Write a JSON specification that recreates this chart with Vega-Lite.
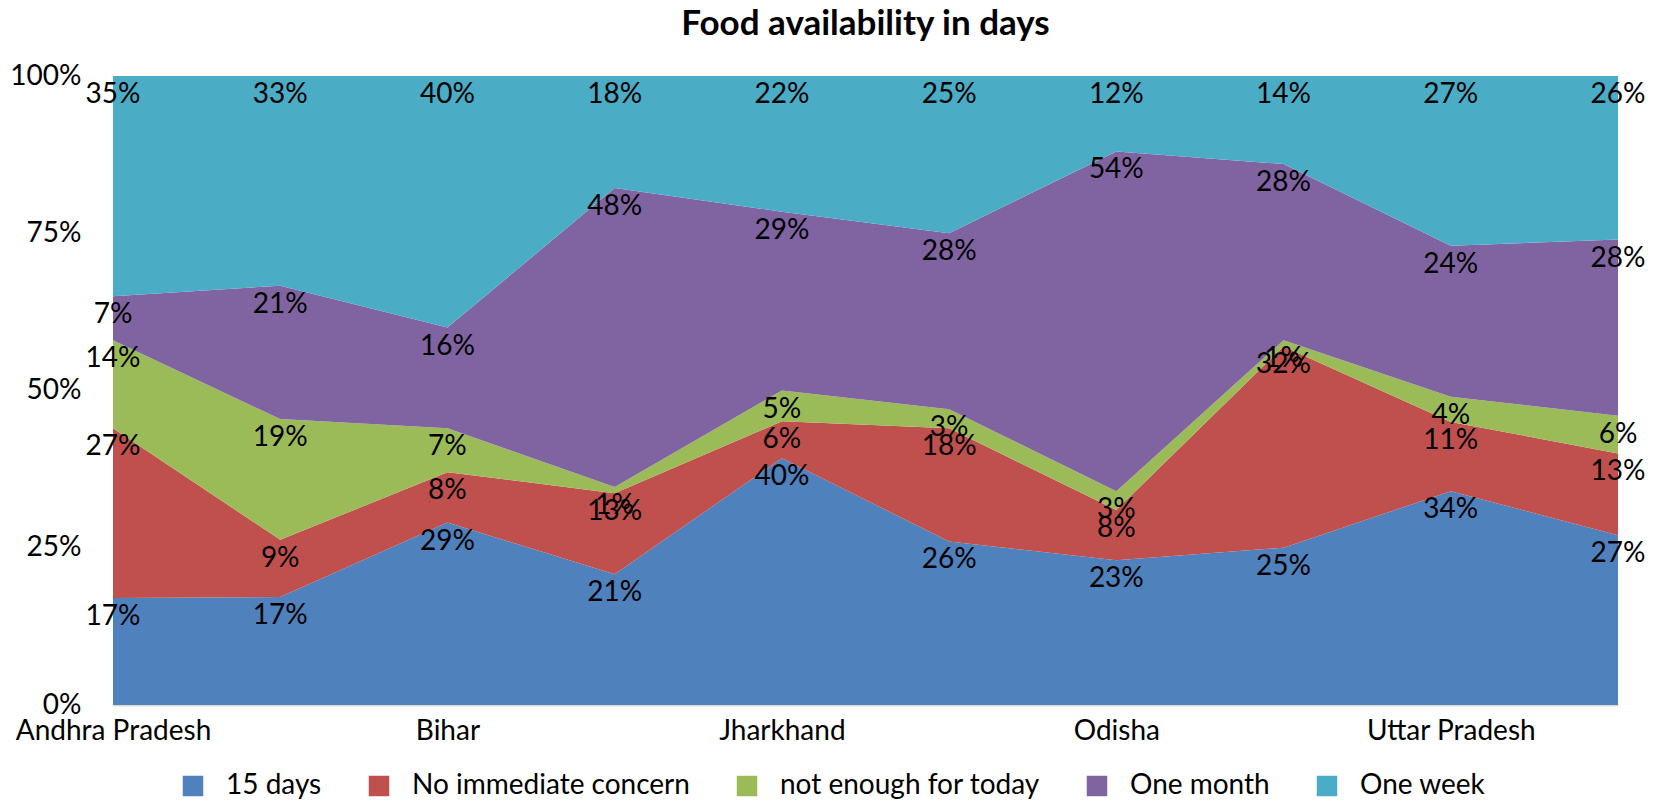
{
  "$schema": "https://vega.github.io/schema/vega-lite/v6.json",
  "autosize": {"type": "none"},
  "width": 1505,
  "height": 629,
  "padding": {"left": 113, "top": 76, "right": 41, "bottom": 96},
  "background": "white",
  "title": {"text": "Food availability in days", "font": "Lato", "fontSize": 35, "fontWeight": "bold", "color": "black", "anchor": "middle", "offset": 20},
  "config": {"view": {"stroke": null}, "font": "Lato"},
  "data": {"values": [
    {"cat": "Andhra Pradesh", "s": "15 days", "o": 1, "v": 0.17},
    {"cat": "Andhra Pradesh", "s": "No immediate concern", "o": 2, "v": 0.27},
    {"cat": "Andhra Pradesh", "s": "not enough for today", "o": 3, "v": 0.14},
    {"cat": "Andhra Pradesh", "s": "One month", "o": 4, "v": 0.07},
    {"cat": "Andhra Pradesh", "s": "One week", "o": 5, "v": 0.35},
    {"cat": "Assam", "s": "15 days", "o": 1, "v": 0.17},
    {"cat": "Assam", "s": "No immediate concern", "o": 2, "v": 0.09},
    {"cat": "Assam", "s": "not enough for today", "o": 3, "v": 0.19},
    {"cat": "Assam", "s": "One month", "o": 4, "v": 0.21},
    {"cat": "Assam", "s": "One week", "o": 5, "v": 0.33},
    {"cat": "Bihar", "s": "15 days", "o": 1, "v": 0.29},
    {"cat": "Bihar", "s": "No immediate concern", "o": 2, "v": 0.08},
    {"cat": "Bihar", "s": "not enough for today", "o": 3, "v": 0.07},
    {"cat": "Bihar", "s": "One month", "o": 4, "v": 0.16},
    {"cat": "Bihar", "s": "One week", "o": 5, "v": 0.40},
    {"cat": "Chhattisgarh", "s": "15 days", "o": 1, "v": 0.21},
    {"cat": "Chhattisgarh", "s": "No immediate concern", "o": 2, "v": 0.13},
    {"cat": "Chhattisgarh", "s": "not enough for today", "o": 3, "v": 0.01},
    {"cat": "Chhattisgarh", "s": "One month", "o": 4, "v": 0.48},
    {"cat": "Chhattisgarh", "s": "One week", "o": 5, "v": 0.18},
    {"cat": "Jharkhand", "s": "15 days", "o": 1, "v": 0.40},
    {"cat": "Jharkhand", "s": "No immediate concern", "o": 2, "v": 0.06},
    {"cat": "Jharkhand", "s": "not enough for today", "o": 3, "v": 0.05},
    {"cat": "Jharkhand", "s": "One month", "o": 4, "v": 0.29},
    {"cat": "Jharkhand", "s": "One week", "o": 5, "v": 0.22},
    {"cat": "Madhya Pradesh", "s": "15 days", "o": 1, "v": 0.26},
    {"cat": "Madhya Pradesh", "s": "No immediate concern", "o": 2, "v": 0.18},
    {"cat": "Madhya Pradesh", "s": "not enough for today", "o": 3, "v": 0.03},
    {"cat": "Madhya Pradesh", "s": "One month", "o": 4, "v": 0.28},
    {"cat": "Madhya Pradesh", "s": "One week", "o": 5, "v": 0.25},
    {"cat": "Odisha", "s": "15 days", "o": 1, "v": 0.23},
    {"cat": "Odisha", "s": "No immediate concern", "o": 2, "v": 0.08},
    {"cat": "Odisha", "s": "not enough for today", "o": 3, "v": 0.03},
    {"cat": "Odisha", "s": "One month", "o": 4, "v": 0.54},
    {"cat": "Odisha", "s": "One week", "o": 5, "v": 0.12},
    {"cat": "Telangana", "s": "15 days", "o": 1, "v": 0.25},
    {"cat": "Telangana", "s": "No immediate concern", "o": 2, "v": 0.32},
    {"cat": "Telangana", "s": "not enough for today", "o": 3, "v": 0.01},
    {"cat": "Telangana", "s": "One month", "o": 4, "v": 0.28},
    {"cat": "Telangana", "s": "One week", "o": 5, "v": 0.14},
    {"cat": "Uttar Pradesh", "s": "15 days", "o": 1, "v": 0.34},
    {"cat": "Uttar Pradesh", "s": "No immediate concern", "o": 2, "v": 0.11},
    {"cat": "Uttar Pradesh", "s": "not enough for today", "o": 3, "v": 0.04},
    {"cat": "Uttar Pradesh", "s": "One month", "o": 4, "v": 0.24},
    {"cat": "Uttar Pradesh", "s": "One week", "o": 5, "v": 0.27},
    {"cat": "West Bengal", "s": "15 days", "o": 1, "v": 0.27},
    {"cat": "West Bengal", "s": "No immediate concern", "o": 2, "v": 0.13},
    {"cat": "West Bengal", "s": "not enough for today", "o": 3, "v": 0.06},
    {"cat": "West Bengal", "s": "One month", "o": 4, "v": 0.28},
    {"cat": "West Bengal", "s": "One week", "o": 5, "v": 0.26}
  ]},
  "encoding": {
    "x": {"field": "cat", "type": "nominal", "sort": null,
      "scale": {"type": "point", "padding": 0},
      "axis": {"title": null, "values": ["Andhra Pradesh", "Bihar", "Jharkhand", "Odisha", "Uttar Pradesh"],
        "labelAngle": 0, "labelFont": "Lato", "labelFontSize": 28, "labelColor": "black", "labelLimit": 400,
        "ticks": false, "domainColor": "#d9d9d9", "domainWidth": 2, "labelPadding": 12, "grid": false}},
    "y": {"field": "v", "type": "quantitative", "stack": "normalize",
      "axis": {"title": null, "values": [0, 0.25, 0.5, 0.75, 1], "format": ".0%",
        "labelFont": "Lato", "labelFontSize": 28, "labelColor": "black",
        "ticks": false, "domain": false, "grid": false, "labelPadding": 32}},
    "order": {"field": "o", "type": "quantitative"}
  },
  "layer": [
    {
      "mark": {"type": "area", "interpolate": "linear"},
      "encoding": {
        "color": {"field": "s", "type": "nominal",
          "scale": {"domain": ["15 days", "No immediate concern", "not enough for today", "One month", "One week"],
            "range": ["#4F81BD", "#C0504D", "#9BBB59", "#8064A2", "#4BACC6"]},
          "legend": {"title": null, "orient": "none", "direction": "horizontal", "legendX": 66, "legendY": 696,
            "symbolType": "square", "symbolSize": 420, "symbolStrokeWidth": 0, "symbolOpacity": 1,
            "labelFont": "Lato", "labelFontSize": 28, "labelColor": "black", "labelOffset": 19,
            "columnPadding": 43, "columns": 5, "labelLimit": 400}
        }
      }
    },
    {
      "mark": {"type": "text", "dy": 19, "baseline": "middle", "align": "center", "font": "Lato", "fontSize": 28, "color": "black"},
      "encoding": {
        "detail": {"field": "s", "type": "nominal"},
        "text": {"field": "v", "type": "quantitative", "format": ".0%"}
      }
    }
  ]
}
